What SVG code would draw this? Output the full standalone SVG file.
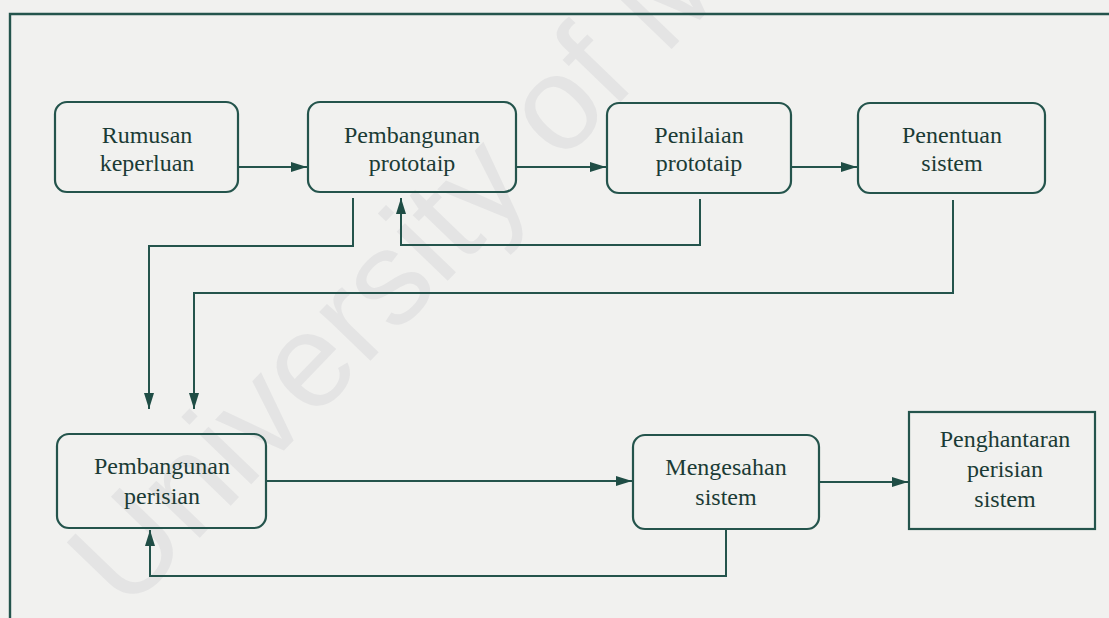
<svg xmlns="http://www.w3.org/2000/svg" width="1109" height="618" viewBox="0 0 1109 618">
  <defs>
    <marker id="arrow" viewBox="0 0 16 10" refX="16" refY="5" markerWidth="16" markerHeight="10" markerUnits="userSpaceOnUse" orient="auto">
      <path d="M0,0 L16,5 L0,10 Z" fill="#1f4d45"/>
    </marker>
    <style>
      .box { fill: none; stroke: #24544c; stroke-width: 2.2; }
      .wire { fill: none; stroke: #24544c; stroke-width: 2; }
      .lbl { font-family: "Liberation Serif", "Times New Roman", serif; font-size: 24px; fill: #1b3b35; text-anchor: middle; }
      .mark { font-family: "Liberation Sans", Arial, sans-serif; font-size: 134px; fill: #e4e4e4; }
    </style>
  </defs>

  <!-- page background -->
  <rect x="0" y="0" width="1109" height="618" fill="#f1f1ef"/>

  <!-- repository watermark -->
  <text class="mark" transform="translate(126,614) rotate(-46)">University of M</text>

  <!-- outer frame -->
  <path d="M10,618 V14 H1109" fill="none" stroke="#24544c" stroke-width="2.4"/>

  <!-- connectors -->
  <g id="connectors">
    <path class="wire" d="M238,167 H307" marker-end="url(#arrow)"/>
    <path class="wire" d="M516,167 H606" marker-end="url(#arrow)"/>
    <path class="wire" d="M791,167 H857" marker-end="url(#arrow)"/>
    <!-- prototype review loops back -->
    <path class="wire" d="M700,199 V245 H401 V198" marker-end="url(#arrow)"/>
    <!-- prototype build and system spec feed software build -->
    <path class="wire" d="M353,198 V246 H149 V409" marker-end="url(#arrow)"/>
    <path class="wire" d="M953,200 V293 H194 V409" marker-end="url(#arrow)"/>
    <path class="wire" d="M266,481 H632" marker-end="url(#arrow)"/>
    <path class="wire" d="M819,482 H908" marker-end="url(#arrow)"/>
    <!-- validation loops back to software build -->
    <path class="wire" d="M726,530 V576 H150 V530" marker-end="url(#arrow)"/>
  </g>

  <g id="rumusan-keperluan">
    <rect class="box" x="55" y="102" width="183" height="90" rx="12"/>
    <text class="lbl" x="147" y="143">Rumusan</text>
    <text class="lbl" x="147" y="171">keperluan</text>
  </g>

  <g id="pembangunan-prototaip">
    <rect class="box" x="308" y="102" width="208" height="90" rx="12"/>
    <text class="lbl" x="412" y="143">Pembangunan</text>
    <text class="lbl" x="412" y="171">prototaip</text>
  </g>

  <g id="penilaian-prototaip">
    <rect class="box" x="607" y="103" width="184" height="90" rx="12"/>
    <text class="lbl" x="699" y="143">Penilaian</text>
    <text class="lbl" x="699" y="171">prototaip</text>
  </g>

  <g id="penentuan-sistem">
    <rect class="box" x="858" y="103" width="187" height="90" rx="12"/>
    <text class="lbl" x="952" y="143">Penentuan</text>
    <text class="lbl" x="952" y="171">sistem</text>
  </g>

  <g id="pembangunan-perisian">
    <rect class="box" x="57" y="434" width="209" height="94" rx="12"/>
    <text class="lbl" x="162" y="474">Pembangunan</text>
    <text class="lbl" x="162" y="504">perisian</text>
  </g>

  <g id="mengesahan-sistem">
    <rect class="box" x="633" y="435" width="186" height="94" rx="12"/>
    <text class="lbl" x="726" y="475">Mengesahan</text>
    <text class="lbl" x="726" y="505">sistem</text>
  </g>

  <g id="penghantaran-perisian-sistem">
    <rect class="box" x="909" y="412" width="186" height="117"/>
    <text class="lbl" x="1005" y="447">Penghantaran</text>
    <text class="lbl" x="1005" y="477">perisian</text>
    <text class="lbl" x="1005" y="507">sistem</text>
  </g>
</svg>
